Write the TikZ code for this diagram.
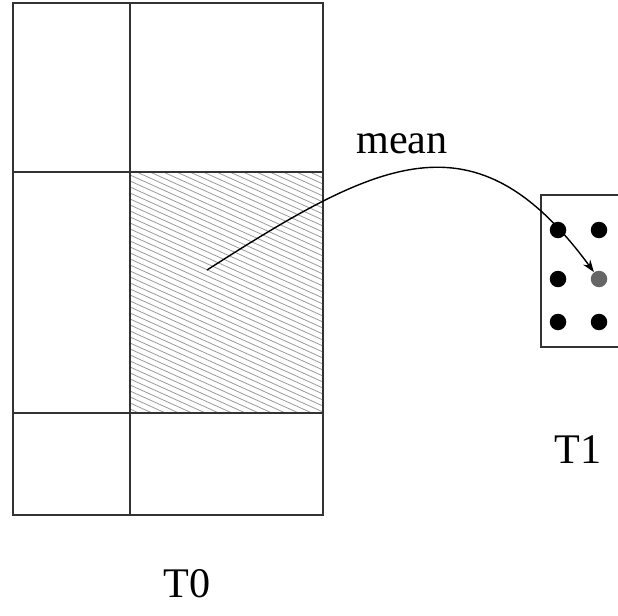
\documentclass[tikz,border=0pt]{standalone}
\usepackage{fontspec}
\setmainfont{Liberation Serif}
\usetikzlibrary{arrows.meta,positioning}

\begin{document}
\begin{tikzpicture}[x=0.02cm,y=-0.02cm,
        cell/.style={draw=black!80,line width=0.9pt},
        hatch/.style={draw=gray!80,line width=0.45pt},
        dot/.style={circle,fill=black,inner sep=0pt,minimum size=0.33cm},
        lbl/.style={font=\fontsize{24}{28}\selectfont,anchor=base}
      ]
        \useasboundingbox (0,0) rectangle (618,615);
        \clip (0,0) rectangle (618,615);
        % hatched cell of T0
        \begin{scope}
          \clip (130,172) rectangle (323,413);
          \foreach \k in {0,...,56}
            \draw[hatch] (130,85+6*\k) -- ++(193,87);
        \end{scope}
        % T0 grid
        \draw[cell] (13,3) rectangle (323,515);
        \draw[cell] (130,3) -- (130,515);
        \draw[cell] (13,172) -- (323,172);
        \draw[cell] (13,413) -- (323,413);
        % T1 block
        \draw[cell] (541,195) rectangle (640,347);
        \node[dot] (a) at (558,230) {};
        \node[dot] (b) at (599,230) {};
        \node[dot] (c) at (558,279) {};
        \node[dot,fill=black!60] (g) at (599,279) {};
        \node[dot] (e) at (558,322) {};
        \node[dot] (f) at (599,322) {};
        % mean arrow
        \coordinate (src) at (207,270);
        \draw[line width=0.8pt,-{Stealth[length=7pt,width=5pt]}]
          (src) .. controls (379,160) and (475,110) .. (g);
        \node[lbl] (mean) at (402,153) {mean};
        \node[lbl] (t1) at (578,463) {T1};
        \node[lbl] (t0) at (187,597) {T0};
      \end{tikzpicture}
\end{document}
